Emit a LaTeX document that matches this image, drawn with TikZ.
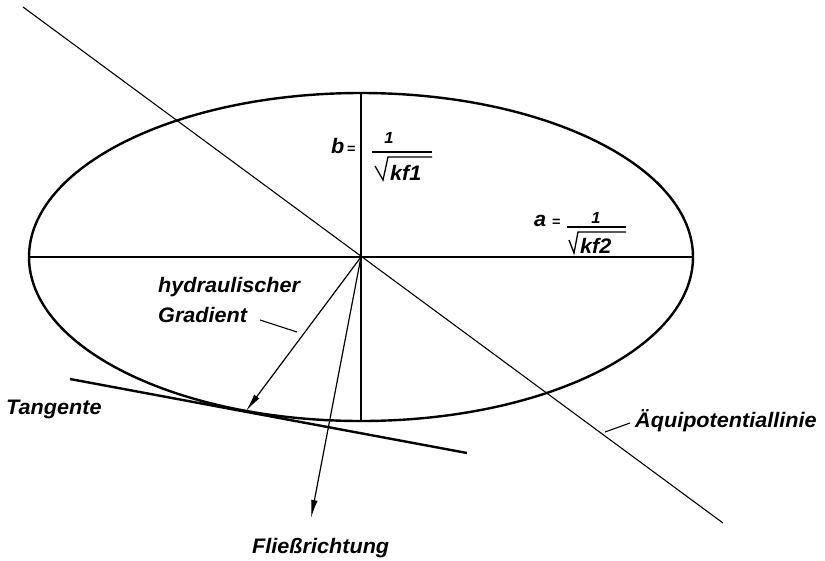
\documentclass[tikz,border=0pt]{standalone}
\usepackage{fontspec}
\setmainfont{Liberation Sans}[FakeStretch=1.03]
\usetikzlibrary{arrows.meta}
\tikzset{
  lbl/.style={inner sep=0pt, anchor=base west, font=\fontsize{21}{23}\selectfont\bfseries\itshape},
  num/.style={inner sep=0pt, anchor=base, font=\fontsize{16}{18}\selectfont\bfseries\itshape},
  eqs/.style={inner sep=0pt, anchor=base west, font=\fontsize{14}{16}\selectfont\bfseries},
  axis/.style={line width=1.5pt},
  thick line/.style={line width=2.4pt},
  thin line/.style={line width=1.1pt},
  arr/.style={line width=1.2pt, -{Latex[length=18pt,width=6.5pt]}},
  frac/.style={line width=1.3pt},
}
\begin{document}
\begin{tikzpicture}[x=1pt,y=-1pt]
\useasboundingbox (0,0) rectangle (825,560);
\fill[white] (0,0) rectangle (825,560);
% ellipse
\coordinate (O) at (361,257);
\draw[thick line] (O) ellipse [x radius=332, y radius=164];
\coordinate (L) at (29,257);
\coordinate (R) at (693,257);
\coordinate (Top) at (361,93);
\coordinate (Bot) at (361,421);
\draw[axis] (L) -- (R);
\draw[axis] (Top) -- (Bot);
% equipotential line
\coordinate (E1) at (23,7);
\coordinate (E2) at (723,523);
\draw[thin line] (E1) -- (E2);
% tangent
\coordinate (T1) at (70,379);
\coordinate (T2) at (467,453);
\draw[thick line] (T1) -- (T2);
% arrows
\coordinate (TP) at (246,411);
\coordinate (FL) at (311,518);
\draw[arr] (O) -- (TP);
\draw[arr] (O) -- (FL);
% labels
\node[lbl] (hyd) at (158,292) {hydraulischer};
\node[lbl] (grad) at (158,322) {Gradient};
\coordinate (g1) at (260,320);
\coordinate (g2) at (297,332);
\draw[thin line] (g1) -- (g2);
\node[lbl] (tan) at (6,414) {Tangente};
\node[lbl] (fl) at (252,553) {Fließrichtung};
\node[lbl] (aeq) at (635,427) {Äquipotentiallinie};
\coordinate (q1) at (630,423);
\coordinate (q2) at (605,432);
\draw[thin line] (q1) -- (q2);
% b label
\node[lbl] (b) at (331,153) {b};
\node[eqs] (beq) at (347,153) {=};
\node[num] (b1) at (389,143) {1};
\draw[frac] (372,152) -- (432,152);
\draw[frac, line join=miter] (375,166) -- (383,180) -- (388,157) -- (432,157);
\node[lbl] (bk) at (390,180) {kf1};
% a label
\node[lbl] (a) at (534,226) {a};
\node[eqs] (aeq2) at (552,226) {=};
\node[num] (a1) at (596,223) {1};
\draw[frac] (567,227) -- (626,227);
\draw[frac, line join=miter] (569,240) -- (574,253) -- (578,232) -- (626,232);
\node[lbl] (ak) at (580,253) {kf2};
\end{tikzpicture}
\end{document}
